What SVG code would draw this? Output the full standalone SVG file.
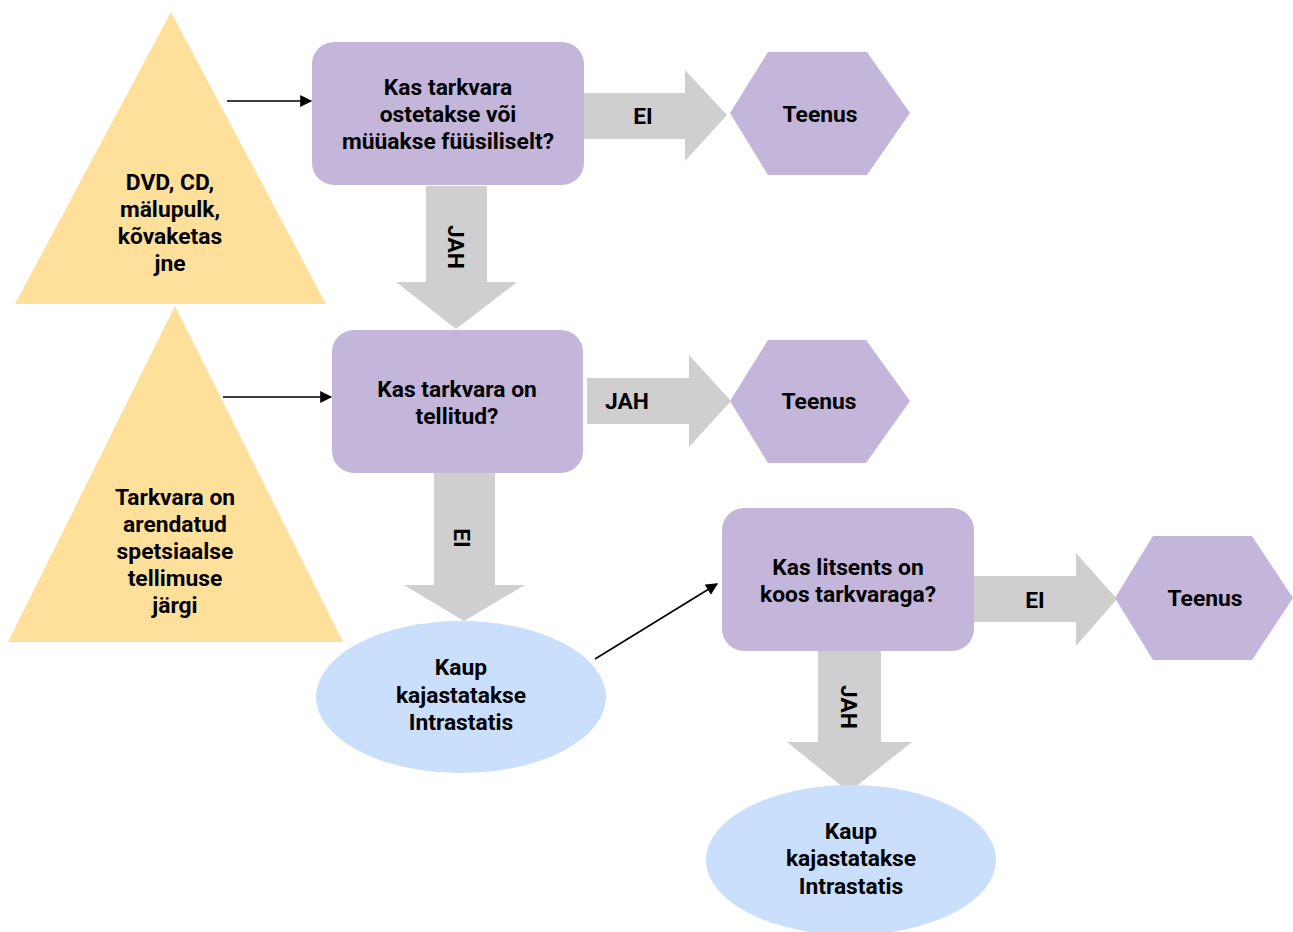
<svg xmlns="http://www.w3.org/2000/svg" width="1293" height="932" viewBox="0 0 1293 932">
<defs>
<style>
.tri{fill:#FFE09B}
.box{fill:#C3B6DA}
.hex{fill:#C3B6DA}
.ell{fill:#CADFFC}
.blk{fill:#D0CFCF}
text{font-family:Roboto,"Liberation Sans",sans-serif;font-weight:bold;font-size:22.8px;fill:#000;text-anchor:middle;dominant-baseline:central}
.ln{stroke:#000;stroke-width:1.6;fill:none;marker-end:url(#ah)}
</style>
<marker id="ah" viewBox="0 0 10 10" refX="9" refY="5" markerWidth="13" markerHeight="12" markerUnits="userSpaceOnUse" orient="auto">
<path d="M0,0 L10,5 L0,10 z" fill="#000"/>
</marker>
</defs>
<rect width="1293" height="932" fill="#fff"/>
<g id="connectors">
<g id="arrow-ei1"><polygon class="blk" points="582,93 685,93 685,70 727,115 685,161 685,139 582,139"/><text x="643" y="116">EI</text></g>
<g id="arrow-jah1"><polygon class="blk" points="426,186 487,186 487,282 517,282 456,329 396,282 426,282"/><text transform="translate(455,247) rotate(90)">JAH</text></g>
<g id="arrow-jah2"><polygon class="blk" points="587,378 689,378 689,355 731,401 689,447 689,424 587,424"/><text x="627" y="401">JAH</text></g>
<g id="arrow-ei2"><polygon class="blk" points="434,473 495,473 495,585 525,585 464,621 404,585 434,585"/><text transform="translate(461,538) rotate(90)">EI</text></g>
<g id="arrow-ei3"><polygon class="blk" points="974,576 1076,576 1076,553 1117,599 1076,646 1076,622 974,622"/><text x="1035" y="600">EI</text></g>
<g id="arrow-jah3"><polygon class="blk" points="818,647 881,647 881,742 912,742 849,792 787,742 818,742"/><text transform="translate(848,707) rotate(90)">JAH</text></g>
<path class="ln" d="M227,101 L311,101"/>
<path class="ln" d="M223,397 L331,397"/>
<path class="ln" d="M595,659 L717,584"/>
</g>
<g id="tri1"><polygon class="tri" points="171,12 326,304 15,304"/>
<text x="170" y="182">DVD, CD,</text><text x="170" y="209">mälupulk,</text><text x="170" y="236">kõvaketas</text><text x="170" y="263">jne</text></g>
<g id="tri2"><polygon class="tri" points="175,306 343,642 8,642"/>
<text x="175" y="497">Tarkvara on</text><text x="175" y="524">arendatud</text><text x="175" y="551">spetsiaalse</text><text x="175" y="578">tellimuse</text><text x="175" y="605">järgi</text></g>
<g id="box1"><rect class="box" x="312" y="42" width="272" height="143" rx="22"/>
<text x="448" y="87">Kas tarkvara</text><text x="448" y="114">ostetakse või</text><text x="448" y="141">müüakse füüsiliselt?</text></g>
<g id="hex1"><polygon class="hex" points="730,113 768,52 867,52 910,113 867,175 768,175"/><text x="820" y="114">Teenus</text></g>
<g id="box2"><rect class="box" x="332" y="330" width="251" height="143" rx="22"/>
<text x="457" y="389">Kas tarkvara on</text><text x="457" y="416">tellitud?</text></g>
<g id="hex2"><polygon class="hex" points="730,401 768,340 866,340 910,401 866,463 768,463"/><text x="819" y="401">Teenus</text></g>
<g id="box3"><rect class="box" x="722" y="508" width="252" height="143" rx="22"/>
<text x="848" y="567">Kas litsents on</text><text x="848" y="594">koos tarkvaraga?</text></g>
<g id="hex3"><polygon class="hex" points="1115,598 1153,536 1252,536 1293,598 1252,660 1153,660"/><text x="1205" y="598">Teenus</text></g>
<g id="ell1"><ellipse class="ell" cx="461" cy="697" rx="145" ry="76"/>
<text x="461" y="667">Kaup</text><text x="461" y="695">kajastatakse</text><text x="461" y="722">Intrastatis</text></g>
<g id="ell2"><ellipse class="ell" cx="851" cy="860" rx="145" ry="75"/>
<text x="851" y="831">Kaup</text><text x="851" y="858">kajastatakse</text><text x="851" y="886">Intrastatis</text></g>
</svg>
